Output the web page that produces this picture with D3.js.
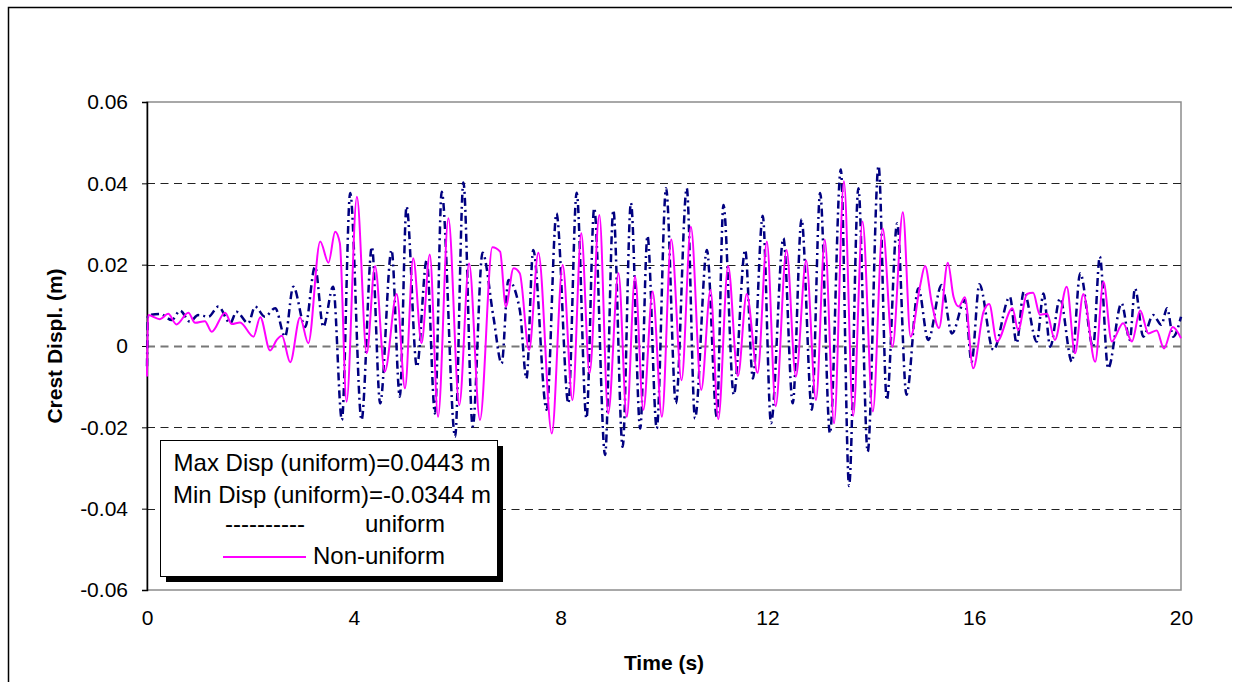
<!DOCTYPE html>
<html>
<head>
<meta charset="utf-8">
<script src="https://cdn.jsdelivr.net/npm/d3@7"></script>
<style>
  html, body { margin: 0; padding: 0; background: #fff; }
  svg text { font-family: "Liberation Sans", Arial, sans-serif; fill: #000; }
</style>
</head>
<body>
<svg id="chart" width="1241" height="682"></svg>
<script>
/* Crest displacement vs time: uniform (dash-dot) and non-uniform (solid) */
var xTicks = [0, 4, 8, 12, 16, 20];
var yTicks = [-0.06, -0.04, -0.02, 0, 0.02, 0.04, 0.06];
var legendLines = ['Max Disp (uniform)=0.0443 m', 'Min Disp (uniform)=-0.0344 m'];
var seriesNames = ['uniform', 'Non-uniform'];

// uniform, [time s, displacement m]
var uniform = [
  [0,-0.005],[0.02,0.0075],[0.25,0.0079],[0.48,0.0064],[0.64,0.0087],[0.83,0.0060],[0.99,0.0076],
  [1.19,0.0072],[1.38,0.0097],[1.61,0.0056],[1.73,0.0084],[1.96,0.0056],[2.09,0.0097],[2.28,0.0072],
  [2.48,0.0093],[2.67,0.0023],[2.83,0.0146],[3.06,0.0047],[3.25,0.0195],[3.41,0.0047],[3.60,0.0146],
  [3.77,-0.0182],[3.93,0.0376],[4.15,-0.0182],[4.35,0.0244],[4.51,-0.0141],[4.73,0.0236],[4.89,-0.0125],
  [5.02,0.0343],[5.22,-0.0051],[5.41,0.0211],[5.57,-0.0166],[5.70,0.0379],[5.96,-0.0223],[6.12,0.0402],
  [6.30,-0.0198],[6.49,0.0229],[6.70,0.0072],[6.86,-0.0043],[6.99,0.0162],[7.21,0.0089],[7.34,-0.0080],
  [7.47,0.0236],[7.73,-0.0157],[7.92,0.0326],[8.15,-0.0141],[8.31,0.0377],[8.50,-0.0178],[8.65,0.0339],
  [8.86,-0.0268],[9.02,0.0334],[9.20,-0.0248],[9.36,0.0352],[9.54,-0.0203],[9.68,0.0271],[9.86,-0.0203],
  [10.04,0.0388],[10.23,-0.0141],[10.44,0.0388],[10.60,-0.0178],[10.83,0.0236],[11.02,-0.0174],
  [11.15,0.0347],[11.35,-0.0120],[11.57,0.0236],[11.72,-0.0080],[11.91,0.0320],[12.07,-0.0190],
  [12.31,0.0265],[12.49,-0.0141],[12.66,0.0312],[12.86,-0.0157],[13.02,0.0376],[13.21,-0.0215],
  [13.42,0.0434],[13.58,-0.0344],[13.76,0.0388],[13.94,-0.0260],[14.15,0.0443],[14.31,-0.0133],
  [14.51,0.0302],[14.69,-0.0120],[14.92,0.0142],[15.11,0.0015],[15.37,0.0150],[15.57,0.0031],
  [15.82,0.0113],[15.95,-0.0039],[16.10,0.0152],[16.37,-0.0010],[16.69,0.0121],[16.82,0.0007],
  [16.96,0.0134],[17.21,0.0011],[17.34,0.0129],[17.47,-0.0002],[17.66,0.0117],[17.89,-0.0039],
  [18.05,0.0179],[18.30,-0.0002],[18.43,0.0220],[18.59,-0.0055],[18.85,0.0105],[19.01,0.0015],
  [19.11,0.0142],[19.27,0.0023],[19.46,0.0076],[19.62,0.0052],[19.73,0.0093],[19.85,0.0023],[20,0.0072]
];

// non-uniform
var nonUniform = [
  [0,-0.0075],[0.02,0.0076],[0.25,0.0066],[0.41,0.0079],[0.57,0.0053],[0.80,0.0082],[0.93,0.0057],
  [1.12,0.0061],[1.25,0.0035],[1.51,0.0082],[1.64,0.0054],[1.80,0.0058],[2.06,0.0023],[2.19,0.0071],
  [2.38,-0.0011],[2.51,0.0015],[2.61,0.0025],[2.77,-0.0040],[2.96,0.0070],[3.12,0.0007],[3.35,0.0257],
  [3.51,0.0205],[3.64,0.0281],[3.73,0.0253],[3.86,-0.0137],[4.06,0.0367],[4.25,-0.0018],[4.41,0.0197],
  [4.60,-0.0063],[4.83,0.0128],[4.99,-0.0104],[5.15,0.0216],[5.31,0.0007],[5.47,0.0225],[5.63,-0.0174],
  [5.83,0.0314],[6.04,-0.0145],[6.23,0.0203],[6.44,-0.0182],[6.68,0.0243],[6.83,0.0232],[6.94,0.0097],
  [7.09,0.0191],[7.21,0.0179],[7.39,-0.0010],[7.57,0.0229],[7.83,-0.0215],[8.04,0.0199],[8.23,-0.0133],
  [8.40,0.0277],[8.56,-0.0067],[8.75,0.0322],[8.92,-0.0166],[9.12,0.0179],[9.28,-0.0174],[9.44,0.0171],
  [9.60,-0.0157],[9.78,0.0134],[9.96,-0.0174],[10.14,0.0262],[10.34,-0.0084],[10.52,0.0293],
  [10.72,-0.0108],[10.90,0.0138],[11.05,-0.0180],[11.24,0.0197],[11.43,-0.0074],[11.60,0.0128],
  [11.81,-0.0066],[11.99,0.0257],[12.16,-0.0148],[12.37,0.0236],[12.55,-0.0075],[12.75,0.0210],
  [12.94,-0.0133],[13.11,0.0261],[13.29,-0.0190],[13.48,0.0405],[13.66,-0.0172],[13.84,0.0306],
  [14.04,-0.0161],[14.23,0.0289],[14.42,-0.0002],[14.62,0.0329],[14.77,0.0023],[14.95,0.0146],
  [15.05,0.0197],[15.18,0.0105],[15.32,0.0044],[15.49,0.0205],[15.60,0.0121],[15.70,0.0097],
  [15.82,0.0120],[15.98,-0.0055],[16.18,0.0084],[16.29,0.0103],[16.44,0.0011],[16.74,0.0093],
  [16.85,0.0039],[17.02,0.0128],[17.14,0.0131],[17.27,0.0077],[17.41,0.0079],[17.56,0.0015],
  [17.79,0.0146],[17.95,-0.0018],[18.11,0.0128],[18.34,-0.0039],[18.50,0.0158],[18.66,0.0011],
  [18.88,0.0056],[19.05,0.0011],[19.21,0.0087],[19.37,0.0031],[19.53,0.0038],[19.67,-0.0006],
  [19.84,0.0047],[20,0.0019]
];

(function () {
  var svg = d3.select('#chart');
  var left = 147, top = 102, right = 1181, bottom = 590;

  var x = d3.scaleLinear().domain([0, 20]).range([left, right]);
  var y = d3.scaleLinear().domain([-0.06, 0.06]).range([bottom, top]);

  // outer chart frame (only top and left edges visible)
  svg.append('path')
    .attr('d', 'M8.5,682V7.5H1232')
    .attr('fill', 'none').attr('stroke', '#000').attr('stroke-width', 1.5);

  // plot area border
  svg.append('rect')
    .attr('x', left).attr('y', top)
    .attr('width', right - left).attr('height', bottom - top)
    .attr('fill', 'none').attr('stroke', '#8c8c8c').attr('stroke-width', 1.5);

  // dashed gridlines
  svg.append('g').selectAll('line')
    .data(yTicks.filter(function (d) { return d > -0.06 && d < 0.06; }))
    .enter().append('line')
    .attr('x1', left).attr('x2', right)
    .attr('y1', function (d) { return Math.round(y(d)) + 0.5; })
    .attr('y2', function (d) { return Math.round(y(d)) + 0.5; })
    .attr('stroke', function (d) { return d === 0 ? '#777' : '#222'; })
    .attr('stroke-width', function (d) { return d === 0 ? 2 : 1; })
    .attr('stroke-dasharray', '8,5.5');

  // left axis
  var yAxis = d3.axisLeft(y).tickValues(yTicks).tickSize(5).tickPadding(14)
    .tickFormat(function (d) { return d === 0 ? '0' : d.toFixed(2); });
  var gy = svg.append('g').attr('transform', 'translate(' + left + ',0)').call(yAxis);
  gy.select('.domain').attr('stroke', '#000').attr('stroke-width', 1.5);
  gy.selectAll('.tick line').attr('stroke', '#000');
  gy.selectAll('text').attr('font-size', 21);

  // bottom axis labels
  var xAxis = d3.axisBottom(x).tickValues(xTicks).tickSize(0).tickPadding(20);
  var gx = svg.append('g').attr('transform', 'translate(0,' + bottom + ')').call(xAxis);
  gx.select('.domain').remove();
  gx.selectAll('text').attr('font-size', 21);

  // series
  var line = d3.line()
    .x(function (d) { return x(d[0]); })
    .y(function (d) { return y(d[1]); })
    .curve(d3.curveMonotoneX);

  svg.append('path').datum(uniform)
    .attr('d', line).attr('fill', 'none')
    .attr('stroke', '#000080').attr('stroke-width', 2.5)
    .attr('stroke-dasharray', '8,4,2,4');

  svg.append('path').datum(nonUniform)
    .attr('d', line).attr('fill', 'none')
    .attr('stroke', '#ff00ff').attr('stroke-width', 2);

  // axis titles
  svg.append('text')
    .attr('x', 664).attr('y', 670)
    .attr('text-anchor', 'middle').attr('font-weight', 'bold').attr('font-size', 21)
    .text('Time (s)');
  svg.append('text')
    .attr('transform', 'translate(62,' + ((top + bottom) / 2) + ') rotate(-90)')
    .attr('text-anchor', 'middle').attr('font-weight', 'bold').attr('font-size', 21)
    .text('Crest Displ. (m)');

  // legend box with shadow
  var lg = svg.append('g');
  lg.append('rect').attr('x', 166).attr('y', 446).attr('width', 337).attr('height', 136).attr('fill', '#000');
  lg.append('rect').attr('x', 160.5).attr('y', 440.5).attr('width', 337).attr('height', 136)
    .attr('fill', '#fff').attr('stroke', '#000').attr('stroke-width', 1);

  lg.selectAll('text.stat').data(legendLines).enter().append('text')
    .attr('class', 'stat')
    .attr('x', 332).attr('y', function (d, i) { return 471 + i * 32; })
    .attr('text-anchor', 'middle').attr('font-size', 24)
    .text(function (d) { return d; });

  lg.append('text').attr('x', 265).attr('y', 532).attr('text-anchor', 'middle')
    .attr('font-size', 24).text('----------');
  lg.append('text').attr('x', 365).attr('y', 532)
    .attr('font-size', 24).text(seriesNames[0]);
  lg.append('line').attr('x1', 223).attr('x2', 306).attr('y1', 557).attr('y2', 557)
    .attr('stroke', '#ff00ff').attr('stroke-width', 2);
  lg.append('text').attr('x', 313).attr('y', 564).attr('font-size', 24).text(seriesNames[1]);
})();
</script>
</body>
</html>
